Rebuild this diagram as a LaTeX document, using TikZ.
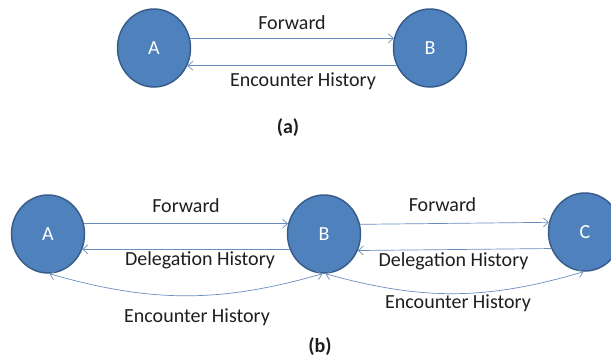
\documentclass[tikz,border=0pt]{standalone}
\usepackage{fontspec}
\setmainfont{Carlito}
\usepackage{tikz}
\usetikzlibrary{positioning, shapes.geometric, arrows.meta}
\definecolor{nodefill}{HTML}{4F81BD}
\definecolor{nodeline}{HTML}{385D8A}
\definecolor{linkblue}{HTML}{6A8DBE}
\definecolor{txtgray}{HTML}{1E1E1E}
\begin{document}
\begin{tikzpicture}[x=1pt, y=-1pt,
main/.style = {ellipse, draw=nodeline, fill=nodefill, line width=1.5pt, minimum width=73pt, minimum height=78pt, text=white},
link/.style = {draw=linkblue, line width=0.7pt},
lbl/.style = {text=txtgray},
>={Straight Barb[length=5pt,width=9pt]}]
\tikzstyle{every node}=[font=\fontsize{20}{24}\selectfont]
\useasboundingbox (0,0) rectangle (611,359);
% (a)
\node[main] (1) at (154,48) {A};
\node[main] (2) at (430,48) {B};
\draw[link,->] (1.15) -- (2.165) node[lbl, midway, yshift=16pt] {Forward};
\draw[link,->] (2.-152) -- (1.-28) node[lbl, midway, xshift=11pt, yshift=-16pt] {Encounter History};
\node[lbl, font=\fontsize{20}{24}\selectfont\bfseries] (la) at (288,128) {(a)};
% (b)
\node[main] (3) at (48,234) {A};
\node[main] (4) at (324,234) {B};
\node[main] (5) at (585,232) {C};
\draw[link,->] (3.16) -- (4.164) node[lbl, midway, yshift=18pt] {Forward};
\draw[link,->] (4.-156) -- (3.-24) node[lbl, midway, xshift=14pt, yshift=-11pt] {Delegation History};
\draw[link,->] (4.15) -- (5.165) node[lbl, midway, xshift=-12pt, yshift=19pt] {Forward};
\draw[link,->] (5.-154) -- (4.-26) node[lbl, midway, xshift=-1pt, yshift=-12pt] {Delegation History};
\draw[link,<->] (4.-92) to[bend left=16] (3.-88);
\draw[link,<->] (4.-88) to[bend right=16] (5.-92);
\node[lbl] (e1) at (197,317) {Encounter History};
\node[lbl] (e2) at (458,303) {Encounter History};
\node[lbl, font=\fontsize{20}{24}\selectfont\bfseries] (lb) at (320,347) {(b)};
\end{tikzpicture}
\end{document}
